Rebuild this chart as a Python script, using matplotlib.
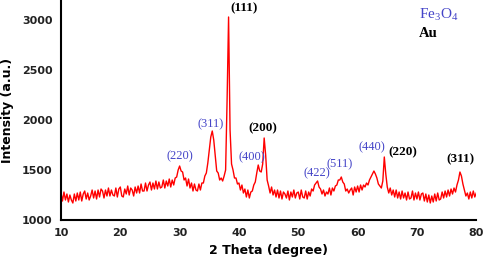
import numpy as np
import matplotlib
matplotlib.use("Agg")
import matplotlib.pyplot as plt

# 2-theta grid start/step and intensity values
theta_start, theta_step = 10.0, 0.25
intensity = [
    1270, 1190, 1280, 1200,  1260, 1180, 1250, 1200,  1170, 1260, 1190, 1270,
    1200, 1280, 1190, 1260,  1290, 1210, 1270, 1200,  1240, 1300, 1220, 1290,
    1210, 1300, 1230, 1310,  1290, 1220, 1300, 1240,  1320, 1240, 1300, 1250,
    1240, 1320, 1230, 1310,  1330, 1240, 1230, 1310,  1260, 1340, 1250, 1320,
    1300, 1240, 1330, 1270,  1340, 1270, 1360, 1290,  1290, 1370, 1290, 1350,
    1380, 1300, 1370, 1310,  1390, 1310, 1380, 1320,  1330, 1400, 1320, 1390,
    1340, 1410, 1330, 1400,  1350, 1420, 1430, 1500,  1540, 1490, 1480, 1400,
    1420, 1340, 1410, 1320,  1370, 1290, 1360, 1300,  1290, 1360, 1300, 1370,
    1370, 1440, 1470, 1570,  1700, 1830, 1890, 1800,  1640, 1490, 1470, 1400,
    1420, 1390, 1440, 1500,  2200, 3030, 1900, 1560,  1500, 1420, 1420, 1360,
    1370, 1300, 1350, 1270,  1310, 1230, 1300, 1220,  1280, 1290, 1350, 1380,
    1470, 1550, 1490, 1480,  1560, 1820, 1650, 1400,  1340, 1270, 1330, 1250,
    1300, 1230, 1300, 1220,  1290, 1210, 1280, 1260,  1220, 1290, 1200, 1280,
    1230, 1300, 1220, 1270,  1280, 1210, 1300, 1230,  1220, 1290, 1210, 1280,
    1240, 1310, 1290, 1350,  1370, 1390, 1330, 1310,  1260, 1300, 1240, 1280,
    1260, 1320, 1250, 1320,  1290, 1340, 1350, 1400,  1400, 1430, 1380, 1360,
    1290, 1310, 1270, 1300,  1320, 1250, 1330, 1280,  1340, 1280, 1350, 1300,
    1350, 1330, 1370, 1350,  1400, 1430, 1460, 1490,  1460, 1420, 1360, 1340,
    1320, 1390, 1630, 1460,  1330, 1270, 1320, 1250,  1300, 1230, 1300, 1220,
    1280, 1210, 1290, 1220,  1270, 1200, 1280, 1210,  1220, 1290, 1200, 1270,
    1210, 1280, 1200, 1260,  1270, 1190, 1260, 1180,  1250, 1170, 1240, 1180,
    1260, 1190, 1270, 1200,  1210, 1280, 1220, 1290,  1230, 1300, 1240, 1310,
    1260, 1320, 1280, 1350,  1400, 1480, 1440, 1360,  1300, 1240, 1270, 1210,
    1280, 1220, 1290, 1230,  1270,
]
two_theta = theta_start + theta_step * np.arange(len(intensity))

# peak annotations
fe_labels = ["(220)", "(311)", "(400)", "(422)", "(511)", "(440)"]
fe_x = [30.0, 35.3, 42.1, 53.1, 57.0, 62.4]
fe_y = [1640, 1960, 1630, 1470, 1560, 1730]
au_labels = ["(111)", "(200)", "(220)", "(311)"]
au_x = [40.9, 44.1, 67.6, 77.3]
au_y = [3120, 1920, 1680, 1610]

xticks = [10, 20, 30, 40, 50, 60, 70, 80]
yticks = [1000, 1500, 2000, 2500, 3000]

fig = plt.figure(figsize=(4.84, 2.67), dpi=100)
ax = fig.add_axes([0.126, 0.176, 0.858, 0.824])
ax.plot(two_theta, intensity, color="#ff0000", lw=1.0)

ax.set_xlim(10, 80)
ax.set_ylim(1000, 3200)
ax.set_xticks(xticks)
ax.set_yticks(yticks)
ax.tick_params(length=0, labelsize=8, colors="#222222", pad=6)
for lab in ax.get_xticklabels() + ax.get_yticklabels():
    lab.set_fontweight("bold")
for s in ["top", "right"]:
    ax.spines[s].set_visible(False)
for s in ["left", "bottom"]:
    ax.spines[s].set_linewidth(1.5)
    ax.spines[s].set_color("black")

ax.set_xlabel("2 Theta (degree)", fontsize=9, fontweight="bold", labelpad=4)
ax.set_ylabel("Intensity (a.u.)", fontsize=9, fontweight="bold", labelpad=6)

blue = "#4545c8"
for t, x, y in zip(fe_labels, fe_x, fe_y):
    ax.text(x, y, t, color=blue, fontsize=9, family="Liberation Serif",
            ha="center", va="center")
for t, x, y in zip(au_labels, au_x, au_y):
    ax.text(x, y, t, color="black", fontsize=9.5, family="Liberation Serif",
            fontweight="bold", ha="center", va="center")

fig.text(0.866, 0.945, r"Fe$_\mathregular{3}$O$_\mathregular{4}$",
         color=blue, fontsize=11, family="Liberation Serif",
         ha="left", va="center")
fig.text(0.866, 0.876, "Au", color="black", fontsize=10.5,
         family="Liberation Serif", fontweight="bold", ha="left", va="center")

fig.savefig("out.png", dpi=100)
